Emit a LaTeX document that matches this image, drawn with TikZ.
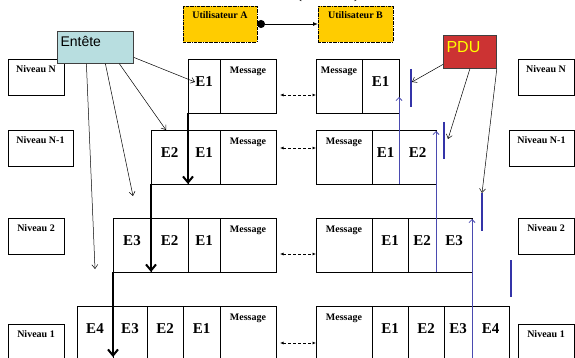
\documentclass[tikz,border=0pt]{standalone}
\usepackage{fontspec}
\setmainfont{Liberation Serif}
\newfontfamily\arialfont{Liberation Sans}
\usetikzlibrary{positioning,calc,arrows.meta}
\definecolor{userfill}{HTML}{FFCC00}
\definecolor{headfill}{HTML}{B8DEE0}
\definecolor{pdufill}{HTML}{CC3333}
\definecolor{pdutext}{HTML}{FFFF00}
\definecolor{trace}{HTML}{4A4AB0}
\definecolor{bar}{HTML}{3434A8}
\newcommand{\smallbf}{\bfseries\fontsize{10}{10}\selectfont}
\newcommand{\cellfont}{\bfseries\fontsize{15}{15}\selectfont}

\tikzset{
	cell/.style={draw, line width=0.9pt, minimum height=54pt, inner sep=0pt, outer sep=0pt, font=\cellfont, text depth=8pt},
	msgcell/.style={cell, minimum width=#1, label={[anchor=north, yshift=-4pt, font=\smallbf]north:Message}},
	levelbox/.style={draw, line width=0.9pt, anchor=north west, minimum height=36pt, inner sep=0pt, outer sep=0pt,
		label={[anchor=north, yshift=-3.5pt, font=\smallbf]north:#1}},
	userbox/.style={draw, densely dashdotted, line width=0.8pt, fill=userfill, anchor=north west, minimum width=74pt,
		minimum height=36pt, inner sep=0pt, outer sep=0pt, label={[anchor=north, yshift=-2pt, font=\smallbf]north:#1}},
	thinarr/.style={-{Straight Barb[length=4pt,width=6pt]}, line width=0.5pt},
	flow/.style={-{Straight Barb[length=6pt,width=10pt,line width=2pt]}, line width=2pt},
	backarr/.style={{Latex[length=3.5pt,width=3pt]}-{Latex[length=3.5pt,width=3pt]}, dash pattern=on 3pt off 2pt, line width=0.7pt},
	bluearr/.style={-{Straight Barb[length=3pt,width=6pt]}, draw=trace, line width=0.8pt},
	pdubar/.style={draw=bar, line width=2pt}
}

\begin{document}
\begin{tikzpicture}[x=1pt, y=-1pt]
	\useasboundingbox (0,0) rectangle (575,358);

	\node[font=\bfseries\fontsize{20}{20}\selectfont, anchor=base] (title) at (328,-2) {(\hspace{52pt})};

	% utilisateurs
	\node[userbox=Utilisateur A] (uA) at (183,6) {};
	\node[userbox=Utilisateur B, minimum width=75pt] (uB) at (318,6) {};
	\draw[{Circle[length=8pt]}-{Latex[length=5pt,width=4pt]}, line width=0.9pt] (uA.east) -- (uB.west);

	% niveaux, gauche
	\node[levelbox=Niveau N, minimum width=56pt] (lvN) at (8,59) {};
	\node[levelbox=Niveau N-1, minimum width=65pt] (lvM) at (8,130) {};
	\node[levelbox=Niveau 2, minimum width=56pt] (lv2) at (8,218) {};
	\node[levelbox=Niveau 1, minimum width=56pt] (lv1) at (8,324) {};

	% niveaux, droite
	\node[levelbox=Niveau N, minimum width=56pt] (rvN) at (518,59) {};
	\node[levelbox=Niveau N-1, minimum width=65pt] (rvM) at (509,130) {};
	\node[levelbox=Niveau 2, minimum width=56pt] (rv2) at (518,218) {};
	\node[levelbox=Niveau 1, minimum width=56pt] (rv1) at (518,324) {};

	% emission
	\node[cell, anchor=north west, minimum width=32pt] (a4E1) at (188,59) {E1};
	\node[msgcell=56pt, right=0pt of a4E1] (a4M) {};

	\node[cell, anchor=north west, minimum width=37pt] (a3E2) at (151,130) {E2};
	\node[cell, minimum width=32pt, right=0pt of a3E2] (a3E1) {E1};
	\node[msgcell=56pt, right=0pt of a3E1] (a3M) {};

	\node[cell, anchor=north west, minimum width=38pt] (a2E3) at (113,218) {E3};
	\node[cell, minimum width=37pt, right=0pt of a2E3] (a2E2) {E2};
	\node[cell, minimum width=32pt, right=0pt of a2E2] (a2E1) {E1};
	\node[msgcell=56pt, right=0pt of a2E1] (a2M) {};

	\node[cell, anchor=north west, minimum width=36pt] (a1E4) at (77,306) {E4};
	\node[cell, minimum width=34pt, right=0pt of a1E4] (a1E3) {E3};
	\node[cell, minimum width=36pt, right=0pt of a1E3] (a1E2) {E2};
	\node[cell, minimum width=37pt, right=0pt of a1E2] (a1E1) {E1};
	\node[msgcell=56pt, right=0pt of a1E1] (a1M) {};

	% reception
	\node[msgcell=46pt, anchor=north west] (b4M) at (316,59) {};
	\node[cell, minimum width=37pt, right=0pt of b4M] (b4E1) {E1};

	\node[msgcell=56pt, anchor=north west] (b3M) at (316,130) {};
	\node[cell, minimum width=27pt, right=0pt of b3M] (b3E1) {E1};
	\node[cell, minimum width=37pt, right=0pt of b3E1] (b3E2) {E2};

	\node[msgcell=56pt, anchor=north west] (b2M) at (316,218) {};
	\node[cell, minimum width=36pt, right=0pt of b2M] (b2E1) {E1};
	\node[cell, minimum width=28pt, right=0pt of b2E1] (b2E2) {E2};
	\node[cell, minimum width=36pt, right=0pt of b2E2] (b2E3) {E3};

	\node[msgcell=56pt, anchor=north west] (b1M) at (316,306) {};
	\node[cell, minimum width=36pt, right=0pt of b1M] (b1E1) {E1};
	\node[cell, minimum width=36pt, right=0pt of b1E1] (b1E2) {E2};
	\node[cell, minimum width=28pt, right=0pt of b1E2] (b1E3) {E3};
	\node[cell, minimum width=37pt, right=0pt of b1E3] (b1E4) {E4};

	% liaisons paire a paire
	\draw[backarr] ([xshift=4pt,yshift=-9pt]a4M.east) -- ([yshift=-9pt]b4M.west);
	\draw[backarr] ([xshift=4pt,yshift=9pt]a3M.east) -- ([yshift=9pt]b3M.west);
	\draw[backarr] ([xshift=4pt,yshift=-9pt]a2M.east) -- ([yshift=-9pt]b2M.west);
	\draw[backarr] ([xshift=4pt,yshift=-10pt]a1M.east) -- ([yshift=-10pt]b1M.west);

	% descente
	\draw[flow] (a4E1.south west) -- (a3E1.south west);
	\draw[flow] (a3E2.south west) -- (a2E2.south west);
	\draw[flow] (a2E3.south west) -- ([yshift=3pt]a1E3.south west);

	% remontee
	\draw[bluearr] (b3E1.south east) -- ([yshift=16pt]b4E1.south east);
	\draw[bluearr] (b2E2.south east) -- ([yshift=-1pt]b3E2.north east);
	\draw[bluearr] (b1E3.south east) -- ([yshift=-1pt]b2E3.north east);

	% en-tetes
	\node[draw=black!75, line width=0.8pt, fill=headfill, anchor=north west, minimum width=76pt, minimum height=32pt,
		inner sep=0pt, label={[anchor=north west, yshift=-1.5pt, font=\arialfont\fontsize{14}{14}\selectfont]north west:Entête}]
		(hdr) at (57,31) {};
	\coordinate (hd3) at (133,196);
	\coordinate (hd4) at (95,269);
	\draw[thinarr] ([yshift=-10pt]hdr.east) -- ([xshift=7pt,yshift=4pt]a4E1.west);
	\draw[thinarr] ([xshift=24pt]hdr.south) -- ([xshift=-3.5pt]a3E2.north);
	\draw[thinarr] ([xshift=10pt]hdr.south) -- (hd3);
	\draw[thinarr] ([xshift=-9pt]hdr.south) -- (hd4);

	% PDU
	\node[draw=black!75, line width=0.8pt, fill=pdufill, anchor=north west, minimum width=53pt, minimum height=33pt,
		inner sep=0pt, label={[anchor=north west, yshift=-2.5pt, text=pdutext, font=\arialfont\fontsize{16}{16}\selectfont]north west:PDU}]
		(pdu) at (443,35) {};
	\coordinate (bar4t) at (411,69);  \coordinate (bar4b) at (411,107);
	\coordinate (bar3t) at (444,122); \coordinate (bar3b) at (444,159);
	\coordinate (bar2t) at (482,193); \coordinate (bar2b) at (482,231);
	\coordinate (bar1t) at (511,260); \coordinate (bar1b) at (511,297);
	\draw[pdubar] (bar4t) -- (bar4b);
	\draw[pdubar] (bar3t) -- (bar3b);
	\draw[pdubar] (bar2t) -- (bar2b);
	\draw[pdubar] (bar1t) -- (bar1b);
	\coordinate (pdu4) at (412,82);
	\coordinate (pdu3) at (448,139);
	\draw[thinarr] ([yshift=-12.5pt]pdu.west) -- (pdu4);
	\draw[thinarr] (pdu.south) -- (pdu3);
	\draw[thinarr] (pdu.south east) -- (bar2t);
\end{tikzpicture}
\end{document}
